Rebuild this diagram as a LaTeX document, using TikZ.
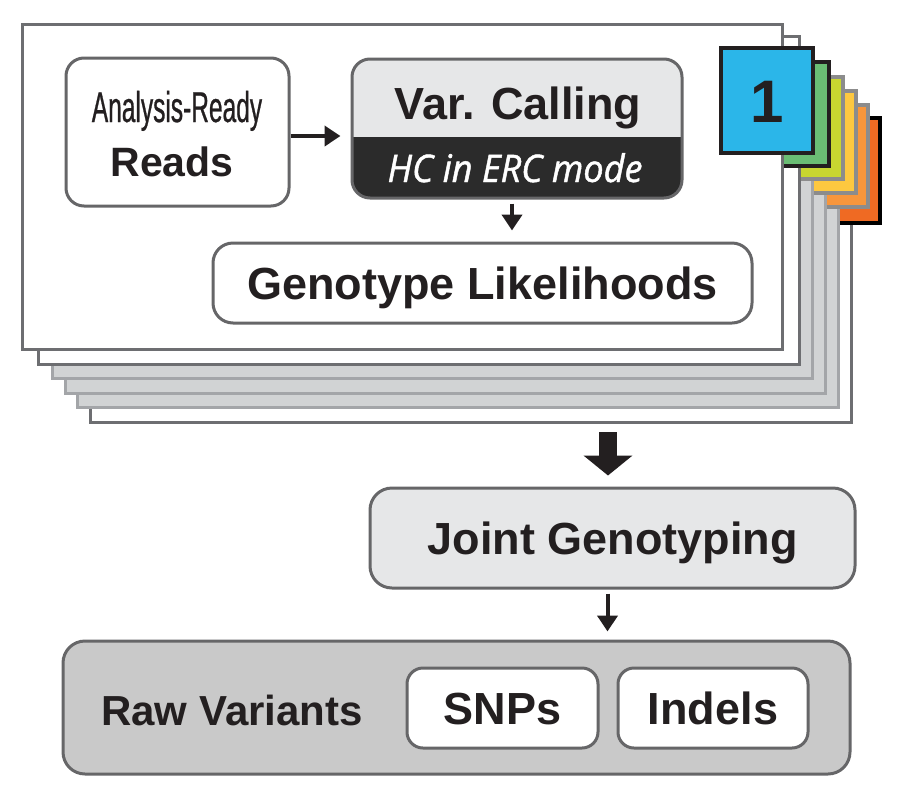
\documentclass[tikz,border=0pt]{standalone}
\usepackage{fontspec}
\setmainfont{Liberation Sans}
\newfontfamily\narrowfont{Liberation Sans}[FakeStretch=0.57, FakeBold=0.6]
\newfontfamily\hcfont{Open Sans}[FakeStretch=0.95, FakeBold=1.2]
\usepackage{xcolor}
\usepackage{tikz}
\usetikzlibrary{arrows.meta,positioning}

\definecolor{ink}{RGB}{35,31,32}
\definecolor{boxline}{RGB}{102,102,104}
\definecolor{lite}{RGB}{230,231,232}
\definecolor{dark}{RGB}{43,43,43}
\definecolor{rawfill}{RGB}{201,201,201}
\definecolor{pagegrey}{RGB}{209,211,212}
\definecolor{pageline}{RGB}{109,110,113}
\definecolor{lightline}{RGB}{163,165,168}
\definecolor{tabline}{RGB}{140,140,140}
\definecolor{tabblue}{RGB}{43,182,233}
\definecolor{tabgreen}{RGB}{106,189,116}
\definecolor{tablime}{RGB}{200,214,48}
\definecolor{tabyellow}{RGB}{253,200,64}
\definecolor{taborange}{RGB}{247,150,60}
\definecolor{tabred}{RGB}{239,106,35}

\tikzset{
  sheet/.style={draw=pageline, fill=white, line width=3pt},
  greysheet/.style={draw=lightline, fill=pagegrey, line width=3pt},
  tabbox/.style={line width=3.5pt},
  box/.style={draw=boxline, line width=3pt, rounded corners=18pt, fill=white, inner sep=0pt, text=ink},
  big/.style={font=\bfseries\fontsize{45}{54}\selectfont, text height=32pt, text depth=0pt},
  txt/.style={anchor=base, inner sep=0pt, text=ink},
  arr/.style={draw=ink, line width=4pt, -{Triangle[width=20pt,length=16pt]}},
  fat/.style={draw=ink, line width=18pt, -{Triangle[width=48pt,length=20pt]}}
}

\begin{document}
\begin{tikzpicture}[x=1pt, y=-1pt]
\useasboundingbox (0,0) rectangle (900,796);

% sheets and tabs, back to front
\draw[sheet] (90,94) rectangle (851,422);
\draw[tabbox, draw=black, fill=tabred] (788,118) rectangle (880,223);
\draw[greysheet] (77,79) rectangle (838,407);
\draw[tabbox, draw=tabline, fill=taborange] (776,105) rectangle (868,207);
\draw[greysheet] (65,64) rectangle (825,393);
\draw[tabbox, draw=tabline, fill=tabyellow] (764,91) rectangle (856,193);
\draw[greysheet] (52,50) rectangle (812,378);
\draw[tabbox, draw=tabline, fill=tablime] (751,77) rectangle (843,179);
\draw[sheet] (38,36) rectangle (799,364);
\draw[tabbox, draw=ink, fill=tabgreen] (737,62) rectangle (829,166);
\draw[sheet] (22,24) rectangle (782,349);
\node (sample) [tabbox, draw=ink, fill=tabblue, minimum width=92pt, minimum height=105pt, inner sep=0pt, text=ink, font=\bfseries\fontsize{60}{60}\selectfont, text height=43pt, text depth=0pt] at (767,100.5) {1};

% per-sample steps
\node (reads) [box, minimum width=223pt, minimum height=148pt] at (177.5,132) {};
\node (analysis) [txt, font=\narrowfont\fontsize{43}{50}\selectfont] at (177,122) {Analysis-Ready};
\node (readsname) [txt, font=\bfseries\fontsize{41}{50}\selectfont] at (172,176) {Reads};

\node (varcall) [box, fill=lite, minimum width=330pt, minimum height=139pt, path picture={\fill[dark, sharp corners] (path picture bounding box.south west) rectangle ([yshift=61pt]path picture bounding box.south east);}] at (517,128.5) {};
\node (varname) [txt, font=\bfseries\fontsize{45}{54}\selectfont] at (518,119) {Var. Calling};
\node (hcmode) [txt, text=white, font=\hcfont\itshape\fontsize{38}{46}\selectfont] at (515,182) {HC in ERC mode};

\node (likelihoods) [box, big, rounded corners=20pt, minimum width=539pt, minimum height=80pt] at (482.5,283) {Genotype Likelihoods};

% joint step
\coordinate (stack) at (608,432);
\node (joint) [box, big, fill=lite, rounded corners=22pt, minimum width=485pt, minimum height=100pt] at (612.5,538) {Joint Genotyping};

\node (raw) [box, fill=rawfill, rounded corners=22pt, minimum width=787pt, minimum height=133pt] at (456.5,707.5) {};
\node (rawlabel) [txt, font=\bfseries\fontsize{42}{50}\selectfont] at (232,725) {Raw Variants};
\node (snps) [box, big, rounded corners=16pt, minimum width=191pt, minimum height=80pt] at (502.5,708) {SNPs};
\node (indels) [box, big, rounded corners=16pt, minimum width=190pt, minimum height=80pt] at (713,708) {Indels};

\draw[arr, shorten >=10pt] ([yshift=-4pt]reads.east) -- ([yshift=-4pt]reads.east -| varcall.west);
\draw[arr, shorten <=4pt, shorten >=11pt] ([xshift=-5pt]varcall.south) -- ([xshift=-5pt]varcall.south |- likelihoods.north);
\draw[fat, shorten >=11pt] (stack) -- (stack |- joint.north);
\draw[arr, shorten <=4pt, shorten >=8pt] ([xshift=-5pt]joint.south) -- ([xshift=-5pt]joint.south |- raw.north);
\end{tikzpicture}
\end{document}
